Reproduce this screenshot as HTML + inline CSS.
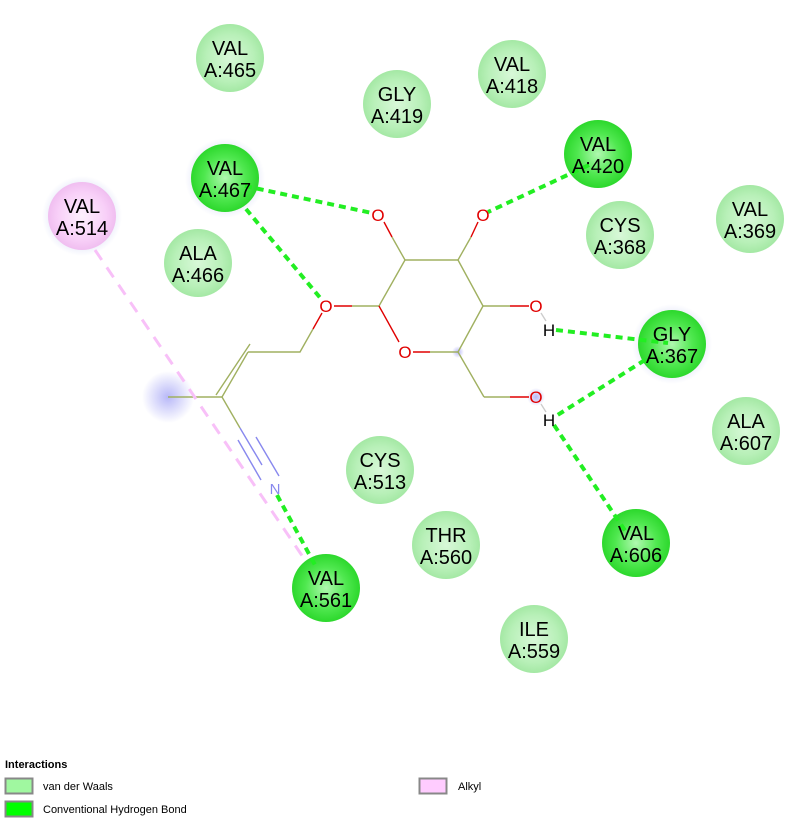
<!DOCTYPE html>
<html><head><meta charset="utf-8"><style>
html,body{margin:0;padding:0;background:#fff}
svg{display:block}
text{font-family:"Liberation Sans",sans-serif}
</style></head><body>
<svg width="811" height="820" viewBox="0 0 811 820" xmlns="http://www.w3.org/2000/svg">
<defs>
<radialGradient id="vw" cx="50%" cy="50%" r="50%">
<stop offset="0" stop-color="#d8f8d8"/><stop offset="0.7" stop-color="#b8f0b8"/><stop offset="1" stop-color="#a4e8a4"/></radialGradient>
<radialGradient id="hb" cx="50%" cy="50%" r="50%">
<stop offset="0" stop-color="#b0f8b0"/><stop offset="0.6" stop-color="#50e850"/><stop offset="1" stop-color="#2cd82c"/></radialGradient>
<radialGradient id="ak" cx="50%" cy="50%" r="50%">
<stop offset="0" stop-color="#fdf0fd"/><stop offset="0.7" stop-color="#f8d0f8"/><stop offset="1" stop-color="#f0bef0"/></radialGradient>
<radialGradient id="glow" cx="50%" cy="50%" r="50%">
<stop offset="0" stop-color="#b8b8f8"/><stop offset="1" stop-color="#b8b8f8" stop-opacity="0"/></radialGradient>
<radialGradient id="halo" cx="50%" cy="50%" r="50%">
<stop offset="0.8" stop-color="#eef0fb"/><stop offset="1" stop-color="#eef0fb" stop-opacity="0"/></radialGradient>
</defs>
<circle cx="225" cy="178" r="40" fill="url(#halo)"/>
<circle cx="82" cy="216" r="40" fill="url(#halo)"/>
<circle cx="672" cy="344" r="40" fill="url(#halo)"/>
<circle cx="168" cy="397" r="26" fill="url(#glow)"/>
<circle cx="536" cy="397" r="9" fill="url(#glow)"/>
<circle cx="458" cy="352" r="6" fill="url(#glow)"/>

<g>
<circle cx="230" cy="58" r="34" fill="url(#vw)"/>
<circle cx="397" cy="104" r="34" fill="url(#vw)"/>
<circle cx="512" cy="74" r="34" fill="url(#vw)"/>
<circle cx="598" cy="154" r="34" fill="url(#hb)"/>
<circle cx="225" cy="178" r="34" fill="url(#hb)"/>
<circle cx="82" cy="216" r="34" fill="url(#ak)"/>
<circle cx="198" cy="263" r="34" fill="url(#vw)"/>
<circle cx="620" cy="235" r="34" fill="url(#vw)"/>
<circle cx="750" cy="219" r="34" fill="url(#vw)"/>
<circle cx="672" cy="344" r="34" fill="url(#hb)"/>
<circle cx="746" cy="431" r="34" fill="url(#vw)"/>
<circle cx="380" cy="470" r="34" fill="url(#vw)"/>
<circle cx="446" cy="545" r="34" fill="url(#vw)"/>
<circle cx="636" cy="543" r="34" fill="url(#hb)"/>
<circle cx="326" cy="588" r="34" fill="url(#hb)"/>
<circle cx="534" cy="639" r="34" fill="url(#vw)"/>
</g>

<g stroke="#a0b060" stroke-width="1.4" fill="none">
<line x1="379" y1="306" x2="405" y2="260"/>
<line x1="405" y1="260" x2="458" y2="260"/>
<line x1="458" y1="260" x2="483" y2="306"/>
<line x1="483" y1="306" x2="458" y2="352"/>
<line x1="458" y1="352" x2="430" y2="352"/>
<line x1="405" y1="260" x2="392" y2="237"/>
<line x1="458" y1="260" x2="471" y2="237"/>
<line x1="483" y1="306" x2="510" y2="306"/>
<line x1="458" y1="352" x2="484" y2="397"/>
<line x1="484" y1="397" x2="510" y2="397"/>
<line x1="379" y1="306" x2="352" y2="306"/>
<polyline points="313,329 300,352 248,352"/>
<line x1="248" y1="352" x2="222" y2="397"/>
<line x1="250" y1="344" x2="216" y2="395"/>
<line x1="222" y1="397" x2="168" y2="397"/>
<line x1="222" y1="397" x2="240" y2="428"/>
</g>
<g stroke="#e00000" stroke-width="1.4" fill="none">
<line x1="379" y1="306" x2="399" y2="342"/>
<line x1="430" y1="352" x2="413" y2="352"/>
<line x1="392" y1="237" x2="384" y2="222"/>
<line x1="471" y1="237" x2="478" y2="222"/>
<line x1="510" y1="306" x2="529" y2="306"/>
<line x1="510" y1="397" x2="529" y2="397"/>
<line x1="352" y1="306" x2="334" y2="306"/>
<line x1="313" y1="329" x2="322" y2="313"/>
</g>
<g stroke="#8888ee" stroke-width="1.4">
<line x1="240" y1="428" x2="262" y2="465"/>
<line x1="238" y1="440" x2="261" y2="480"/>
<line x1="256" y1="437" x2="279" y2="476"/>
</g>
<g stroke="#ccc" stroke-width="1.4">
<line x1="541" y1="313" x2="546" y2="321"/>
<line x1="541" y1="404" x2="546" y2="412"/>
</g>

<g stroke="#22ee22" stroke-width="4" stroke-dasharray="7,5" fill="none">
<line x1="245" y1="186" x2="372" y2="213"/>
<line x1="246" y1="209" x2="322" y2="300"/>
<line x1="589" y1="165" x2="488" y2="212"/>
<line x1="556" y1="330" x2="668" y2="343"/>
<line x1="645" y1="360" x2="556" y2="416"/>
<line x1="554" y1="425" x2="626" y2="532"/>
<line x1="277" y1="495" x2="315" y2="565"/>
</g>
<line x1="95" y1="250" x2="305" y2="560" stroke="#f8c0f8" stroke-width="3" stroke-dasharray="12,9"/>

<g font-size="17" fill="#e00000" text-anchor="middle">
<text x="378" y="221">O</text>
<text x="483" y="221">O</text>
<text x="536" y="312">O</text>
<text x="536" y="403">O</text>
<text x="405" y="358">O</text>
<text x="326" y="312">O</text>
</g>
<g font-size="17" fill="#000" text-anchor="middle">
<text x="549" y="336">H</text>
<text x="549" y="426">H</text>
</g>
<text x="275" y="494" font-size="15" fill="#8888ee" text-anchor="middle">N</text>

<g font-size="20" fill="#000" text-anchor="middle">
<text x="230" y="55">VAL</text><text x="230" y="77">A:465</text>
<text x="397" y="101">GLY</text><text x="397" y="123">A:419</text>
<text x="512" y="71">VAL</text><text x="512" y="93">A:418</text>
<text x="598" y="151">VAL</text><text x="598" y="173">A:420</text>
<text x="225" y="175">VAL</text><text x="225" y="197">A:467</text>
<text x="82" y="213">VAL</text><text x="82" y="235">A:514</text>
<text x="198" y="260">ALA</text><text x="198" y="282">A:466</text>
<text x="620" y="232">CYS</text><text x="620" y="254">A:368</text>
<text x="750" y="216">VAL</text><text x="750" y="238">A:369</text>
<text x="672" y="341">GLY</text><text x="672" y="363">A:367</text>
<text x="746" y="428">ALA</text><text x="746" y="450">A:607</text>
<text x="380" y="467">CYS</text><text x="380" y="489">A:513</text>
<text x="446" y="542">THR</text><text x="446" y="564">A:560</text>
<text x="636" y="540">VAL</text><text x="636" y="562">A:606</text>
<text x="326" y="585">VAL</text><text x="326" y="607">A:561</text>
<text x="534" y="636">ILE</text><text x="534" y="658">A:559</text>
</g>

<text x="5" y="768" font-size="11" font-weight="bold" fill="#000">Interactions</text>
<rect x="5.5" y="778.5" width="27" height="15" fill="#a0f8a0" stroke="#888" stroke-width="2"/>
<text x="43" y="790" font-size="11" fill="#000">van der Waals</text>
<rect x="5.5" y="801.5" width="27" height="15" fill="#00ff00" stroke="#888" stroke-width="2"/>
<text x="43" y="813" font-size="11" fill="#000">Conventional Hydrogen Bond</text>
<rect x="419.5" y="778.5" width="27" height="15" fill="#ffccff" stroke="#888" stroke-width="2"/>
<text x="458" y="790" font-size="11" fill="#000">Alkyl</text>
</svg>
</body></html>
